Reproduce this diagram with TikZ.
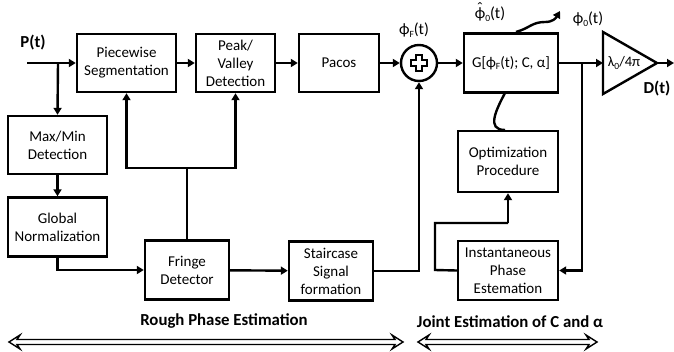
\documentclass[tikz,border=0pt]{standalone}
\usepackage{fontspec}
\setmainfont{Carlito}
\usetikzlibrary{arrows.meta,calc}
\newcommand{\phihat}{\ooalign{ϕ\cr\hidewidth\raisebox{0.62ex}{ˆ}\hidewidth\cr}}
\newcommand{\sbx}[1]{\raisebox{-0.35ex}{\fontsize{9.5}{9.5}\selectfont #1}}
\begin{document}
\begin{tikzpicture}[x=1pt,y=-1pt,
  blk/.style={draw, line width=2.4pt, align=center, inner sep=1pt, font=\fontsize{15}{18}\selectfont},
  ln/.style={line width=2.4pt},
  arr/.style={line width=2.4pt, -{Triangle[length=7pt,width=8pt]}},
  lbl/.style={inner sep=0pt, font=\fontsize{16}{18}\selectfont},
  blbl/.style={inner sep=0pt, font=\fontsize{16.8}{19}\selectfont\bfseries},
  hollow/.style={line width=1.4pt, line join=miter}
]
\useasboundingbox (0,0) rectangle (674,351);
% blocks
\node[blk,minimum width=99,minimum height=58] (seg) at (126.5,63) {Piecewise\\Segmentation};
\node[blk,minimum width=79,minimum height=58] (peak) at (235.5,63) {Peak/\\Valley\\Detection};
\node[blk,minimum width=80,minimum height=58] (pacos) at (339,63) {Pacos};
\node[blk,minimum width=99,minimum height=58] (maxmin) at (57.5,145) {Max/Min\\Detection};
\node[blk,minimum width=99,minimum height=59] (glob) at (57.5,227) {Global\\Normalization};
\node[blk,minimum width=84,minimum height=59] (fringe) at (187,270) {Fringe\\Detector};
\node[blk,minimum width=84,minimum height=59] (stair) at (331,271) {Staircase\\Signal\\formation};
\node[draw,circle,line width=2.4pt,minimum size=36,inner sep=0pt] (sum) at (419,63) {};
\node[blk,minimum width=94,minimum height=59] (G) at (511,63) {G[ϕ\sbx{F}(t); C, α]};
\node[blk,minimum width=100,minimum height=61] (opt) at (508,161.5) {Optimization\\Procedure};
\node[blk,minimum width=100,minimum height=59] (inst) at (508,270.5) {Instantaneous\\Phase\\Estemation};
% plus sign in the sum
\draw[line width=1.5pt] ($(sum.center)+(2.8,-8)$) -- ++(0,5.2) -- ++(5.2,0) -- ++(0,5.6) -- ++(-5.2,0) -- ++(0,5.2)
  -- ++(-5.6,0) -- ++(0,-5.2) -- ++(-5.2,0) -- ++(0,-5.6) -- ++(5.2,0) -- ++(0,-5.2) -- cycle;
% amplifier
\draw[ln, line join=miter] (603,32) -- (657,63) -- (603,94) -- cycle;
\coordinate (ampin) at (603,63);
\coordinate (ampout) at (657,63);
\node[inner sep=0pt, font=\fontsize{14.5}{16}\selectfont] (lam) at (624,63) {λ\sbx{0}/4π};
\coordinate (dend) at (674,63);
% labels
\node[blbl] (pt) at (33,43) {P(t)};
\node[lbl] (phif) at (414,30) {ϕ\sbx{F}(t)};
\node[lbl] (phih) at (490,14) {\phihat\sbx{0}(t)};
\node[lbl] (phi0) at (588,19) {ϕ\sbx{0}(t)};
\node[blbl] (dt) at (657,89) {D(t)};
\node[blbl] (rough) at (224,321) {Rough Phase Estimation};
\node[blbl] (joint) at (510,322) {Joint Estimation of C and α};
% coordinates
\coordinate (pin) at (27,63);
\coordinate (br1) at (58,63);
\coordinate (jf) at (187,168);
\coordinate (br2) at (582,63);
\coordinate (lp) at (435,270);
\coordinate (lq) at (508,223);
\coordinate (gtop) at (516,32);
\coordinate (tip) at (560,11);
\coordinate (gbot) at (505,93);
\coordinate (otop) at (505,130);
% connectors
\draw[ln] (pin) -- (br1);
\draw[arr] (br1) -- (seg.west);
\draw[arr] (br1) -- (maxmin.north);
\draw[arr] (maxmin) -- (glob);
\draw[arr] (glob.south) |- (fringe.west);
\draw[ln] (fringe.north) -- (jf);
\draw[arr] (jf) -| (seg.south);
\draw[arr] (jf) -| (peak.south);
\draw[arr] (seg) -- (peak);
\draw[arr] (peak) -- (pacos);
\draw[arr] (pacos) -- (sum);
\draw[arr] (sum) -- (G);
\draw[arr] (fringe) -- (stair);
\draw[arr] (stair.east) -| (sum.south);
\draw[ln] (G.east) -- (br2);
\draw[arr] (br2) -- (ampin);
\draw[arr] (br2) |- (inst.east);
\draw[ln] (inst.west) -- (lp) |- (lq);
\draw[arr] (lq) -- (opt.south);
\draw[arr] (gtop) .. controls (530,28) and (532,22) .. (545,22) .. controls (553,22) and (556,18) .. (tip);
\draw[ln] (gbot) .. controls (496,110) and (486,130) .. (otop);
\draw[arr] (ampout) -- (dend);
% bottom hollow double arrows
\draw[hollow] (9,342) -- (20,335) -- (17,339.5) -- (395,339.5) -- (392,335) -- (403,342)
  -- (392,349) -- (395,344.5) -- (17,344.5) -- (20,349) -- cycle;
\draw[hollow] (418,342) -- (429,335) -- (426,339.5) -- (589,339.5) -- (586,335) -- (597,342)
  -- (586,349) -- (589,344.5) -- (426,344.5) -- (429,349) -- cycle;
\end{tikzpicture}
\end{document}
